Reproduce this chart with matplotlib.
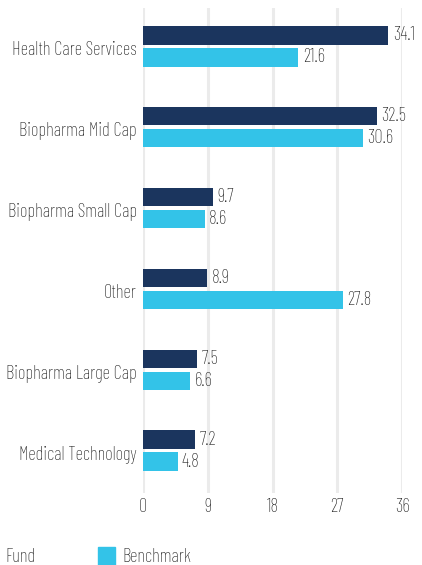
import matplotlib.pyplot as plt
from matplotlib.patches import Rectangle
import numpy as np

categories = ['Health Care Services', 'Biopharma Mid Cap', 'Biopharma Small Cap',
              'Other', 'Biopharma Large Cap', 'Medical Technology']
fund = [34.1, 32.5, 9.7, 8.9, 7.5, 7.2]
benchmark = [21.6, 30.6, 8.6, 27.8, 6.6, 4.8]
xticks = [0, 9, 18, 27, 36]

fund_color = '#1b355e'
bench_color = '#33c3e8'
text_color = '#1e1e1e'

plt.rcParams['font.family'] = ['Barlow Condensed', 'DejaVu Sans']
plt.rcParams['font.weight'] = 'light'
FS = 13.4

fig = plt.figure(figsize=(4.22, 5.65), dpi=100)
W, H = 422, 565
ax = fig.add_axes([143 / W, 1 - 493 / H, (402 - 143) / W, (493 - 8) / H])

y = np.arange(len(categories))
h = 0.227
off = 0.136
ax.barh(y - off - 0.025, fund, height=h, color=fund_color, zorder=3)
ax.barh(y + off - 0.025, benchmark, height=h, color=bench_color, zorder=3)

for i in range(len(categories)):
    ax.text(fund[i] + 0.6, y[i] - off - 0.025, f'{fund[i]:.1f}', va='center', ha='left',
            fontsize=FS, color=text_color, clip_on=False)
    ax.text(benchmark[i] + 0.6, y[i] + off - 0.025, f'{benchmark[i]:.1f}', va='center', ha='left',
            fontsize=FS, color=text_color, clip_on=False)

ax.set_xlim(0, 36)
ax.set_ylim(len(categories) - 0.5, -0.5)
ax.set_xticks(xticks)
ax.set_xticklabels([str(t) for t in xticks], fontsize=FS, color=text_color)
ax.set_yticks(y)
ax.set_yticklabels(categories, fontsize=FS, color=text_color)
ax.tick_params(axis='both', length=0)
ax.tick_params(axis='x', pad=3.5)
ax.tick_params(axis='y', pad=4.5)
ax.grid(axis='x', color='#ebebeb', linewidth=2.2, zorder=0)
for s in ax.spines.values():
    s.set_visible(False)

# legend drawn by hand, the Fund swatch sits just off the left edge
fig.patches.append(Rectangle((-19 / W, 0), 17 / W, 18 / H, transform=fig.transFigure,
                             color=fund_color, figure=fig))
fig.text(5 / W, 1 - 557 / H, 'Fund', fontsize=FS, color=text_color, va='center', ha='left')
fig.patches.append(Rectangle((98 / W, 0), 17 / W, 18 / H, transform=fig.transFigure,
                             color=bench_color, figure=fig))
fig.text(122 / W, 1 - 557 / H, 'Benchmark', fontsize=FS, color=text_color, va='center', ha='left')

fig.savefig('out.png', dpi=100)
